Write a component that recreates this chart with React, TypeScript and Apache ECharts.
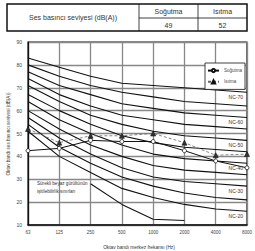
import React, { useEffect, useRef } from "react";
import * as echarts from "echarts";

const freqs = ["63", "125", "250", "500", "1000", "2000", "4000", "8000"];
const ncNames = ["NC-20", "NC-25", "NC-30", "NC-35", "NC-40", "NC-45", "NC-50", "NC-55", "NC-60", "NC-65", "NC-70"];
const nc20 = [51, 40, 33, 26, 22, 19, 17, 16];
const nc25 = [54, 44, 37, 31, 27, 24, 22, 21];
const nc30 = [57, 48, 41, 35, 31, 29, 28, 27];
const nc35 = [60, 52, 45, 40, 36, 34, 33, 32];
const nc40 = [64, 56, 50, 45, 41, 39, 38, 37];
const nc45 = [67, 60, 54, 49, 46, 44, 43, 42];
const nc50 = [71, 64, 58, 54, 51, 49, 48, 47];
const nc55 = [74, 67, 62, 58, 56, 54, 53, 52];
const nc60 = [77, 71, 67, 63, 61, 59, 58, 57];
const nc65 = [80, 75, 71, 68, 66, 64, 63, 62];
const nc70 = [83, 79, 75, 72, 71, 70, 69, 68];
const ncCurves = [nc20, nc25, nc30, nc35, nc40, nc45, nc50, nc55, nc60, nc65, nc70];
const labelledNc = ["NC-20", "NC-30", "NC-40", "NC-50", "NC-60", "NC-70"];
const cooling = [42.5, 43.5, 47, 46.5, 46.5, 42.5, 38, 35];
const heating = [52, 46, 49, 49, 50, 46, 40.5, 41];
const threshold = [null, null, 28, 19, 12.5, 12, null, null];
const modeNames = ["Soğutma", "Isıtma"];
const modeLevels = ["49", "52"];
const tableTitle = "Ses basıncı seviyesi (dB(A))";
const thresholdText = ["Sürekli beyaz gürültünün", "işitilebilirlik sınırları"];
const yTitle = "Oktav bandı ses basıncı seviyesi (dB(A))";
const xTitle = "Oktav bandı merkez frekansı (Hz)";

const FONT = "Liberation Sans, Arial, sans-serif";

export default function App() {
  const ref = useRef<HTMLDivElement>(null);
  useEffect(() => {
    const chart = echarts.init(ref.current!, null, { renderer: "svg" });
    const series: any[] = ncCurves.map((d, i) => ({
      name: ncNames[i],
      type: "line",
      data: d,
      symbol: "none",
      lineStyle: { color: "#111", width: 1.1 },
      silent: true,
      z: 2,
    }));
    series.push({
      name: "threshold",
      type: "line",
      data: threshold,
      symbol: "none",
      lineStyle: { color: "#111", width: 1.1 },
      z: 2,
    });
    series.push({
      name: modeNames[0],
      type: "line",
      data: cooling,
      symbol: "circle",
      symbolSize: 4,
      itemStyle: { color: "#fff", borderColor: "#111", borderWidth: 0.8 },
      lineStyle: { color: "#111", width: 1 },
      z: 4,
    });
    series.push({
      name: modeNames[1],
      type: "line",
      data: heating,
      symbol: "triangle",
      symbolSize: 5,
      itemStyle: { color: "#333", borderColor: "#111", borderWidth: 0.6 },
      lineStyle: { color: "#666", width: 0.8, type: [3, 2] },
      z: 4,
    });

    const txt = (x: number, y: number, text: string, size: number, extra: any = {}) => ({
      type: "text",
      x,
      y,
      z: 10,
      ...extra,
      style: { text, font: `${size}px ${FONT}`, fill: "#333", textAlign: "center", textVerticalAlign: "middle", ...(extra.style || {}) },
    });

    const baseGraphic: any[] = [
      { type: "rect", shape: { x: 7, y: 4, width: 240, height: 27 }, style: { fill: "none", stroke: "#111", lineWidth: 1.5 } },
      { type: "line", shape: { x1: 139, y1: 4, x2: 139, y2: 31 }, style: { stroke: "#111", lineWidth: 0.8 } },
      { type: "line", shape: { x1: 198, y1: 4, x2: 198, y2: 31 }, style: { stroke: "#111", lineWidth: 0.8 } },
      { type: "line", shape: { x1: 139, y1: 18, x2: 247, y2: 18 }, style: { stroke: "#111", lineWidth: 0.8 } },
      txt(73, 17.5, tableTitle, 7),
      txt(168.5, 11.5, modeNames[0], 7),
      txt(222.5, 11.5, modeNames[1], 7),
      txt(168.5, 25, modeLevels[0], 7),
      txt(222.5, 25, modeLevels[1], 7),
      txt(37, 183, thresholdText[0], 4.6, { style: { textAlign: "left" } }),
      txt(37, 191, thresholdText[1], 4.6, { style: { textAlign: "left" } }),
      txt(8, 134, yTitle, 4.6, { rotation: Math.PI / 2 }),
      txt(139, 247, xTitle, 4.8),
    ];

    chart.setOption({
      animation: false,
      grid: { left: 28, right: 5, top: 42, bottom: 26, show: true, borderColor: "#111", borderWidth: 1.2, backgroundColor: "#fff" },
      legend: {
        data: [modeNames[0], modeNames[1]],
        orient: "vertical",
        left: 205,
        top: 63,
        backgroundColor: "#fff",
        borderColor: "#111",
        borderWidth: 0.8,
        borderRadius: 0,
        padding: [5, 3, 5, 2],
        itemGap: 6,
        itemWidth: 11,
        itemHeight: 4,
        textStyle: { fontSize: 4.5, color: "#444", fontFamily: FONT },
      },
      xAxis: {
        type: "category",
        data: freqs,
        boundaryGap: false,
        axisLine: { show: true, lineStyle: { color: "#111", width: 1.5 } },
        axisTick: { show: false },
        axisLabel: { fontSize: 4.5, color: "#444", margin: 5, fontFamily: FONT },
        splitLine: { show: true, lineStyle: { color: "#888", width: 1.3 } },
      },
      yAxis: {
        type: "value",
        min: 10,
        max: 90,
        interval: 10,
        axisLine: { show: true, lineStyle: { color: "#111", width: 1.2 } },
        axisTick: { show: false },
        axisLabel: { fontSize: 5, color: "#444", margin: 6, fontFamily: FONT },
        splitLine: { show: true, lineStyle: { color: "#888", width: 1.3 } },
      },
      series,
      graphic: baseGraphic,
    });

    const ncLabelGraphic = labelledNc.map((name) => {
      const idx = ncNames.indexOf(name);
      const d = ncCurves[idx];
      const p = chart.convertToPixel({ gridIndex: 0 }, [freqs.length - 1, d[d.length - 1]]) as number[];
      return txt(p[0] - 4, p[1] + 5, name, 5, { style: { textAlign: "right" } });
    });
    chart.setOption({ graphic: [...baseGraphic, ...ncLabelGraphic] });

    return () => chart.dispose();
  }, []);
  return <div ref={ref} style={{ position: "absolute", left: 0, top: 0, width: 255, height: 251 }} />;
}
